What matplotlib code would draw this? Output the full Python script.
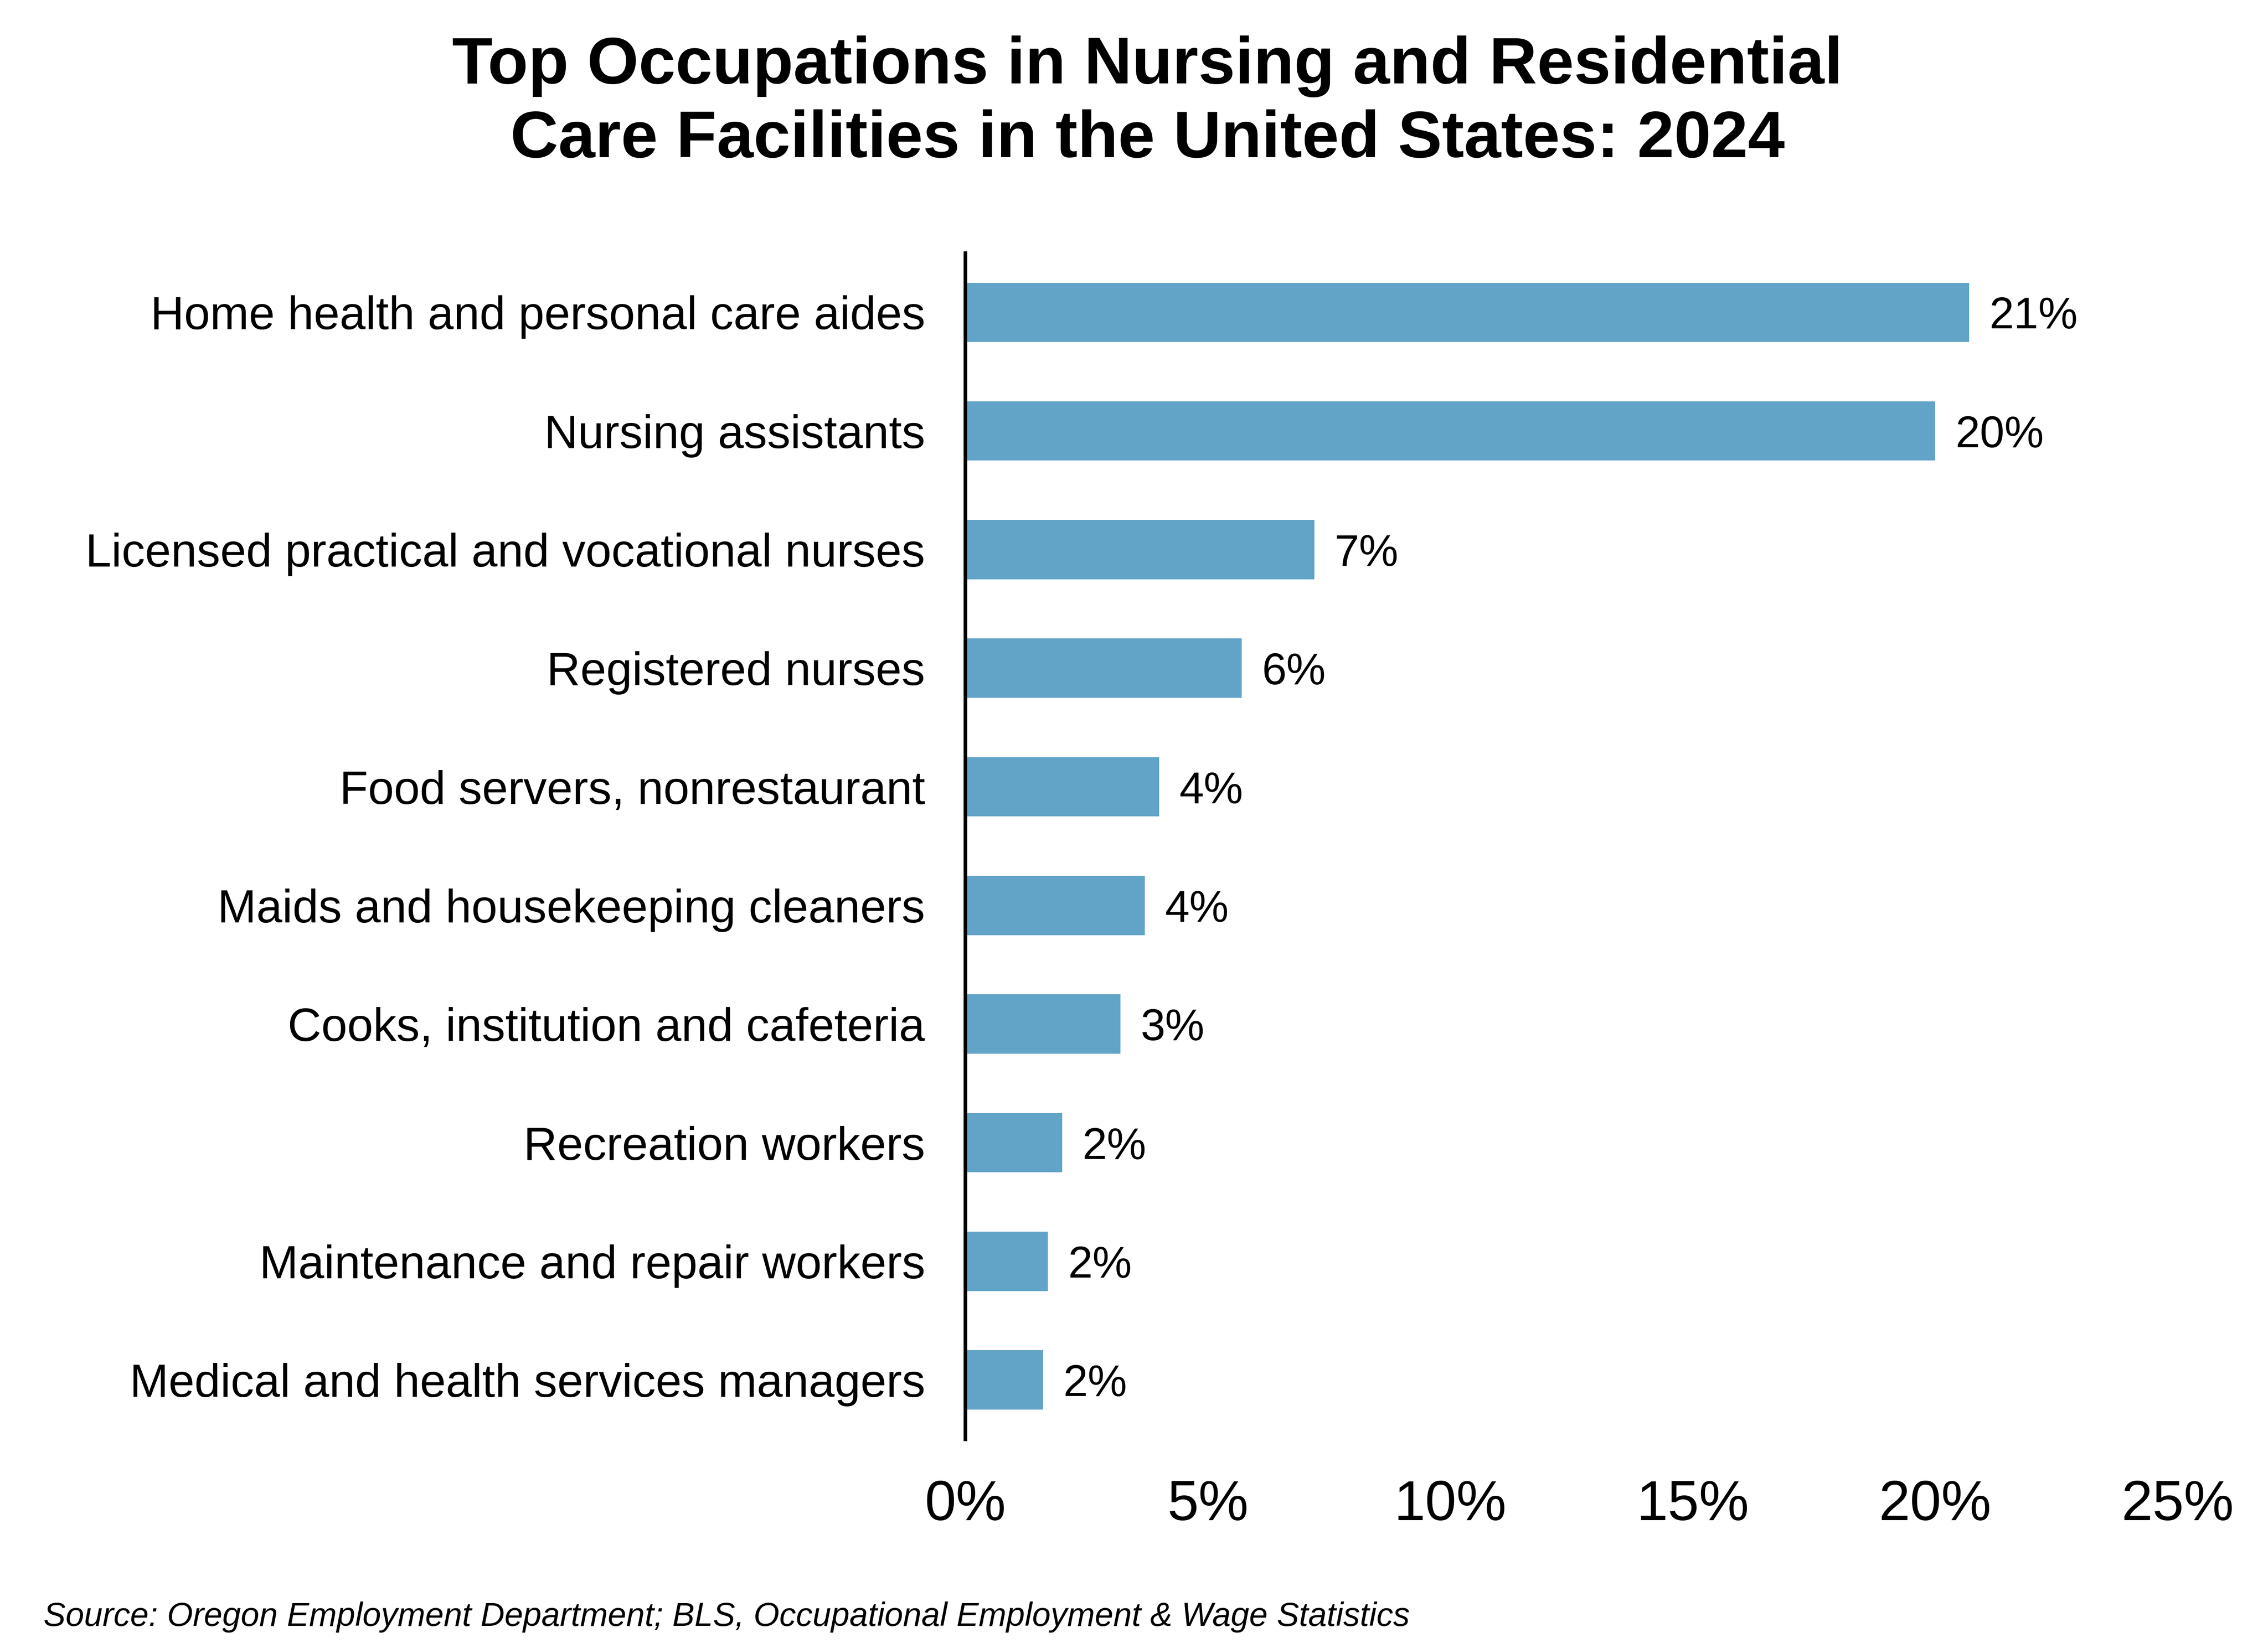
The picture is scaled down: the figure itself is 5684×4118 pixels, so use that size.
import matplotlib.pyplot as plt
from matplotlib.ticker import FuncFormatter

plt.rcParams['font.family'] = ['Liberation Sans', 'DejaVu Sans']

# Data (share of employment, %)
occupations = [
    'Home health and personal care aides',
    'Nursing assistants',
    'Licensed practical and vocational nurses',
    'Registered nurses',
    'Food servers, nonrestaurant',
    'Maids and housekeeping cleaners',
    'Cooks, institution and cafeteria',
    'Recreation workers',
    'Maintenance and repair workers',
    'Medical and health services managers',
]
shares = [20.7, 20.0, 7.2, 5.7, 4.0, 3.7, 3.2, 2.0, 1.7, 1.6]
x_ticks = [0, 5, 10, 15, 20, 25]

title = 'Top Occupations in Nursing and Residential\nCare Facilities in the United States: 2024'
source = 'Source: Oregon Employment Department; BLS, Occupational Employment & Wage Statistics'

bar_color = '#62a3c8'

fig = plt.figure(figsize=(15.68, 11.36), dpi=362.5)
ax = fig.add_axes([0.4256, 0.124, 0.9602 - 0.4256, 0.846 - 0.124])

y_pos = list(range(len(occupations)))
ax.barh(y_pos, shares, height=0.5, color=bar_color, edgecolor='none')

# value labels at the end of each bar
for y, v in zip(y_pos, shares):
    ax.annotate(f'{v:.0f}%', xy=(v, y), xytext=(10, 0), textcoords='offset points',
                va='center_baseline', ha='left', fontsize=22)

ax.set_ylim(len(occupations) - 0.5, -0.5)
ax.set_xlim(0, 25)
ax.set_yticks(y_pos)
ax.set_yticklabels(occupations, fontsize=23.2)
ax.set_xticks(x_ticks)
ax.xaxis.set_major_formatter(FuncFormatter(lambda v, p: f'{v:.0f}%'))
ax.tick_params(axis='x', length=0, labelsize=28, pad=20)
ax.tick_params(axis='y', length=0, pad=20)

for side in ['top', 'right', 'bottom']:
    ax.spines[side].set_visible(False)
ax.spines['left'].set_linewidth(1.8)
ax.spines['left'].set_color('black')

# multi-line baseline alignment anchors the last line
fig.text(0.506, 0.9043, title, ha='center', va='baseline', fontsize=33,
         fontweight='bold', linespacing=1.25)
fig.text(0.0192, 0.0104, source, ha='left', va='baseline', fontsize=16.5, style='italic')

fig.savefig('out.png', dpi=362.5, facecolor='white')
